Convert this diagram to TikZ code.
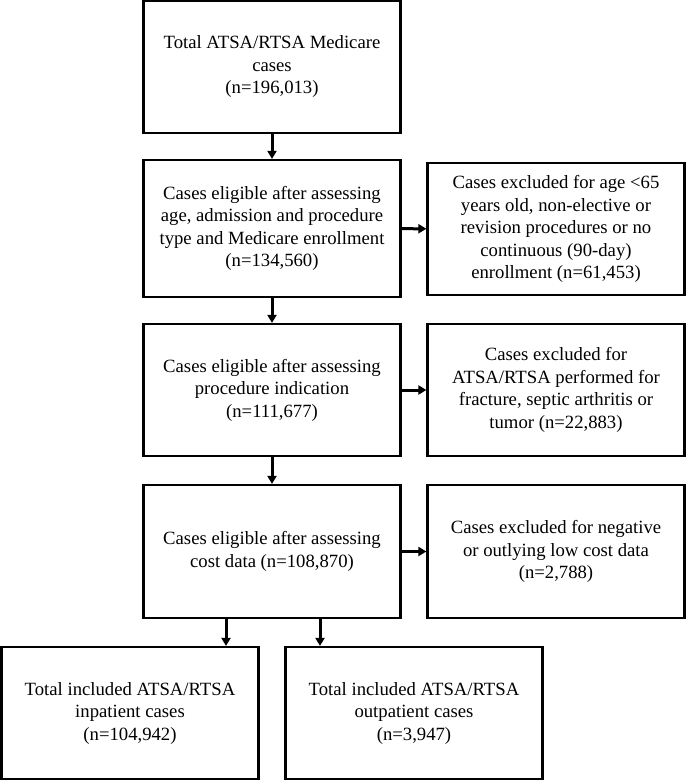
\documentclass[tikz,border=0pt]{standalone}
\usepackage{fontspec}
\setmainfont{Liberation Serif}
\usetikzlibrary{arrows.meta}
\begin{document}
\begin{tikzpicture}[x=1pt,y=-1pt,
  box/.style={draw=black,line width=2.2pt,minimum width=257pt,align=center,inner sep=0pt,
    font=\fontsize{18.7}{22.5}\selectfont},
  arr/.style={line width=3pt,-{Triangle[length=8pt,width=9pt]}}]
\useasboundingbox (0,0) rectangle (686,781);
\node[box,minimum height=132pt] (b1) at (272,67) {Total ATSA/RTSA Medicare\\cases\\(n=196,013)};
\node[box,minimum height=137pt] (b2) at (272,228.5) {Cases eligible after assessing\\age, admission and procedure\\type and Medicare enrollment\\(n=134,560)};
\node[box,minimum height=132pt] (b3) at (556,229) {Cases excluded for age <65\\years old, non-elective or\\revision procedures or no\\continuous (90-day)\\enrollment (n=61,453)};
\node[box,minimum height=132pt] (b4) at (272,390) {Cases eligible after assessing\\procedure indication\\(n=111,677)};
\node[box,minimum height=132pt] (b5) at (556,390) {Cases excluded for\\ATSA/RTSA performed for\\fracture, septic arthritis or\\tumor (n=22,883)};
\node[box,minimum height=133pt] (b6) at (272,551.5) {Cases eligible after assessing\\cost data (n=108,870)};
\node[box,minimum height=133pt] (b7) at (556,551.5) {Cases excluded for negative\\or outlying low cost data\\(n=2,788)};
\node[box,minimum height=132pt] (b8) at (130,713) {Total included ATSA/RTSA\\inpatient cases\\(n=104,942)};
\node[box,minimum height=132pt] (b9) at (414,713) {Total included ATSA/RTSA\\outpatient cases\\(n=3,947)};
\coordinate (c1) at (226,0);
\coordinate (c2) at (320,0);
\draw[arr] (b1) -- (b2);
\draw[arr] (b2) -- (b3);
\draw[arr] (b2) -- (b4);
\draw[arr] (b4) -- (b5);
\draw[arr] (b4) -- (b6);
\draw[arr] (b6) -- (b7);
\draw[arr] (b6.south -| c1) -- (b8.north -| c1);
\draw[arr] (b6.south -| c2) -- (b9.north -| c2);
\end{tikzpicture}
\end{document}
